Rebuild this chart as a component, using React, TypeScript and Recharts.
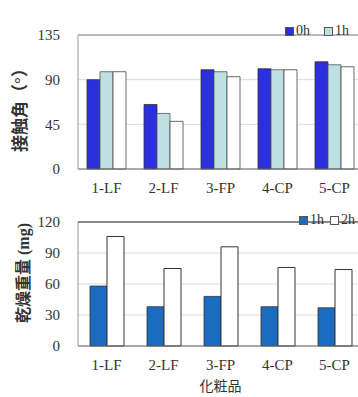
import React from 'react';
import { BarChart, Bar, XAxis, YAxis, CartesianGrid, Legend, ReferenceLine } from 'recharts';

const products = ['1-LF', '2-LF', '3-FP', '4-CP', '5-CP'];

// 接触角 (°)
const angle0h = [90, 65, 100, 101, 108];
const angle1h = [98, 56, 98, 100, 105];
const angle2h = [98, 48, 93, 100, 103];
const angleTicks = [0, 45, 90, 135];

// 乾燥重量 (mg)
const weight1h = [58, 38, 48, 38, 37];
const weight2h = [106, 75, 96, 76, 74];
const weightTicks = [0, 30, 60, 90, 120];

const angleData = products.map((name, i) => ({ name, h0: angle0h[i], h1: angle1h[i], h2: angle2h[i] }));
const weightData = products.map((name, i) => ({ name, h1: weight1h[i], h2: weight2h[i] }));

const serif = "'Liberation Serif', 'DejaVu Serif', serif";
const cjk = "'Liberation Serif', 'Noto Sans CJK JP', sans-serif";

function yTitle(text: string, cx: number, dy: number, size: number) {
  return (props: any) => {
    const vb = props.viewBox || { y: 0, height: 0 };
    const y = vb.y + vb.height / 2 + dy;
    return (
      <text
        x={cx}
        y={y}
        transform={`rotate(-90 ${cx} ${y})`}
        textAnchor="middle"
        dominantBaseline="central"
        fontFamily={cjk}
        fontSize={size}
        fontWeight="bold"
        fill="#333"
      >
        {text}
      </text>
    );
  };
}

function legendContent(gap: number) {
  return (props: any) => {
    const items = props.payload || [];
    return (
      <div style={{ display: 'flex', fontFamily: serif, fontSize: 14, color: '#333', whiteSpace: 'nowrap' }}>
        {items.map((it: any) => (
          <div key={it.value} style={{ display: 'flex', alignItems: 'center', marginRight: gap }}>
            <span
              style={{
                display: 'inline-block',
                width: 7,
                height: 7,
                background: it.payload.fill,
                border: '1px solid #555',
                marginRight: 2,
              }}
            />
            {it.value}
          </div>
        ))}
      </div>
    );
  };
}

export default function App() {
  return (
    <div style={{ position: 'fixed', left: 0, top: 0, width: 358, height: 397, overflow: 'hidden', background: '#fff' }}>
      <div style={{ position: 'absolute', left: 0, top: 0 }}>
        <BarChart width={370} height={200} data={angleData} margin={{ top: 19, right: 7, left: 0, bottom: 0 }} barSize={13} barGap={0}>
          <CartesianGrid vertical={false} stroke="#dcdcdc" />
          <ReferenceLine y={135} stroke="#888" />
          <XAxis
            dataKey="name"
            height={31}
            tickLine={false}
            axisLine={{ stroke: '#666' }}
            tick={{ fontFamily: serif, fontSize: 15, fill: '#333' }}
            tickMargin={7}
            interval={0}
          />
          <YAxis
            width={78}
            domain={[0, 135]}
            ticks={angleTicks}
            tickLine={false}
            axisLine={{ stroke: '#999' }}
            tick={{ fontFamily: serif, fontSize: 15, fill: '#333' }}
            tickMargin={12}
            label={yTitle('接触角（°）', 20, 4, 17)}
          />
          <Legend
            verticalAlign="top"
            content={legendContent(14)}
            wrapperStyle={{ position: 'absolute', top: 23, left: 285, width: 140 }}
          />
          <Bar dataKey="h0" name="0h" fill="#2b2fdc" stroke="#333" strokeWidth={0.8} isAnimationActive={false} />
          <Bar dataKey="h1" name="1h" fill="#bfe0e3" stroke="#555" strokeWidth={0.8} isAnimationActive={false} />
          <Bar dataKey="h2" name="2h" fill="#ffffff" stroke="#444" strokeWidth={0.8} isAnimationActive={false} />
        </BarChart>
      </div>
      <div style={{ position: 'absolute', left: 0, top: 200 }}>
        <BarChart width={370} height={197} data={weightData} margin={{ top: 6, right: 7, left: 0, bottom: 0 }} barSize={17} barGap={0}>
          <CartesianGrid vertical={false} stroke="#dcdcdc" />
          <ReferenceLine y={120} stroke="#222" />
          <XAxis
            dataKey="name"
            height={51}
            tickLine={false}
            axisLine={{ stroke: '#666' }}
            tick={{ fontFamily: serif, fontSize: 15, fill: '#333' }}
            tickMargin={7}
            interval={0}
            label={{ value: '化粧品', position: 'insideBottom', offset: 6, fontFamily: "'Noto Sans CJK JP', sans-serif", fontSize: 14, fill: '#333' }}
          />
          <YAxis
            width={78}
            domain={[0, 120]}
            ticks={weightTicks}
            tickLine={false}
            axisLine={{ stroke: '#999' }}
            tick={{ fontFamily: serif, fontSize: 15, fill: '#333' }}
            tickMargin={12}
            label={yTitle('乾燥重量 (mg)', 23, -11, 16)}
          />
          <Legend
            verticalAlign="top"
            content={legendContent(6)}
            wrapperStyle={{ position: 'absolute', top: 12, left: 299, width: 140 }}
          />
          <Bar dataKey="h1" name="1h" fill="#1b6cc0" stroke="#333" strokeWidth={0.8} isAnimationActive={false} />
          <Bar dataKey="h2" name="2h" fill="#ffffff" stroke="#333" strokeWidth={1} isAnimationActive={false} />
        </BarChart>
      </div>
    </div>
  );
}
